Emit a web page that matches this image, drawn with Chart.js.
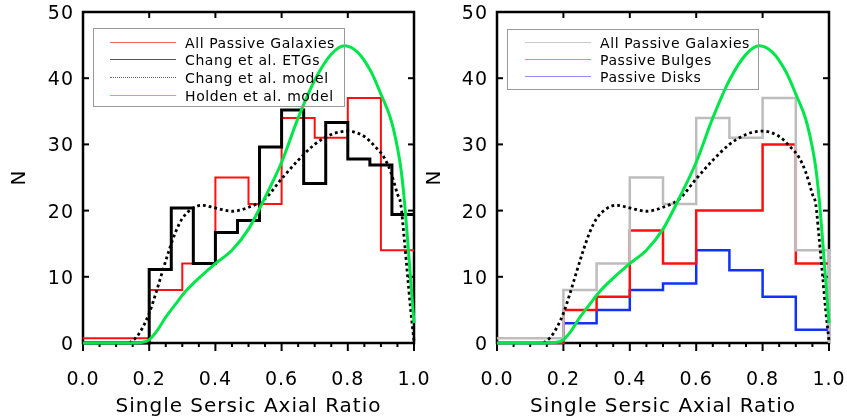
<!DOCTYPE html>
<html>
<head>
<meta charset="utf-8">
<script src="https://cdn.jsdelivr.net/npm/chart.js@4.4.1/dist/chart.umd.min.js"></script>
<style>
  html, body { margin:0; padding:0; background:#fff; }
  #wrap { position:relative; width:847px; height:418px; overflow:hidden; background:#fff; }
  #wrap canvas { position:absolute; left:0; top:0; }
  .legend { position:absolute; border:1px solid #9a9a9a; box-sizing:border-box; font-family:"DejaVu Sans", sans-serif; font-size:14px; letter-spacing:0.6px; color:#000; }
  .legend .row { position:absolute; left:0; height:18px; width:100%; }
  .legend .sample { position:absolute; top:8px; height:0; }
  .legend .label { position:absolute; top:0; line-height:18px; white-space:nowrap; }
</style>
</head>
<body>
<div id="wrap">
  <canvas id="c1" width="847" height="418"></canvas>
  <canvas id="c2" width="847" height="418"></canvas>
  <div class="legend" id="leg1" style="left:93px; top:28px; width:252px; height:79px;"></div>
  <div class="legend" id="leg2" style="left:507px; top:29px; width:252px; height:61px;"></div>
</div>
<script>
// ---------------- data ----------------
const xTickValues = [0.0, 0.2, 0.4, 0.6, 0.8, 1.0];
const yTickValues = [0, 10, 20, 30, 40, 50];

// histogram bin edges
const binEdges10 = [0.0, 0.1, 0.2, 0.3, 0.4, 0.5, 0.6, 0.7, 0.8, 0.9, 1.0];
const binEdges15 = [0.0, 0.0667, 0.1333, 0.2, 0.2667, 0.3333, 0.4, 0.4667, 0.5333, 0.6, 0.6667, 0.7333, 0.8, 0.8667, 0.9333, 1.0];

// histogram values
const allPassive    = [0.7, 0.7, 8, 12, 25, 21, 34, 31, 37, 14];
const passiveBulges = [0, 0, 5, 7, 17, 12, 20, 20, 30, 12];
const passiveDisks  = [0, 0, 3, 5, 8, 9, 14, 11, 7, 2];
const changETGs     = [0, 0, 0, 11.1, 20.4, 12.0, 16.7, 18.5, 29.6, 35.2, 24.1, 33.3, 27.8, 26.9, 19.4];

// model curves
const holdenX = [0.0, 0.05, 0.10, 0.15, 0.18, 0.20, 0.22, 0.25, 0.28, 0.31, 0.35, 0.40, 0.45, 0.50, 0.55, 0.60, 0.65, 0.70, 0.75, 0.79, 0.83, 0.87, 0.90, 0.93, 0.95, 0.96, 0.97, 0.98, 0.99, 1.0];
const holdenY = [0.0, 0.0, 0.0, 0.0, 0.1, 0.5, 1.6, 3.9, 5.9, 7.8, 9.8, 12.0, 14.0, 17.2, 22.0, 27.3, 34.0, 39.7, 43.6, 44.9, 43.9, 41.0, 37.6, 33.8, 29.5, 26.5, 22.0, 16.0, 9.5, 3.0];
const changModelX = [0.14, 0.16, 0.18, 0.20, 0.22, 0.24, 0.26, 0.28, 0.30, 0.33, 0.36, 0.40, 0.45, 0.50, 0.55, 0.60, 0.65, 0.70, 0.75, 0.80, 0.85, 0.88, 0.91, 0.93, 0.95, 0.96, 0.97, 0.98, 0.99, 1.0];
const changModelY = [0.0, 0.8, 2.3, 4.5, 7.5, 10.8, 14.0, 16.8, 18.8, 20.3, 20.8, 20.4, 19.9, 20.5, 21.8, 24.8, 27.6, 30.0, 31.5, 32.0, 31.2, 29.8, 28.0, 25.8, 22.5, 21.0, 16.0, 10.5, 5.0, 0.3];

// ---------------- helpers ----------------
function steps(edges, vals, closeAtEnd) {
  const pts = vals.map((v, i) => ({ x: edges[i], y: v }));
  pts.push({ x: edges[edges.length - 1], y: vals[vals.length - 1] });
  if (closeAtEnd) pts.push({ x: edges[edges.length - 1], y: 0 });
  return pts;
}
function curve(xs, ys) { return xs.map((x, i) => ({ x: x, y: ys[i] })); }

const FONT = "'DejaVu Sans', sans-serif";
const GREEN = '#00e64a';

const framePlugin = {
  id: 'frame',
  beforeInit(chart) { chart.ctx.letterSpacing = '1px'; },
  beforeUpdate(chart) { chart.ctx.letterSpacing = '1px'; },
  beforeDraw(chart) { chart.ctx.letterSpacing = '1px'; },
  beforeDatasetsDraw(chart) {
    const { ctx, chartArea: a, scales } = chart;
    const xs = scales.x, ys = scales.y;
    ctx.save();
    ctx.strokeStyle = '#000';
    ctx.lineWidth = 2.5;
    ctx.strokeRect(a.left, a.top, a.right - a.left, a.bottom - a.top);
    ctx.lineWidth = 2;
    // bottom: outward major + minor ticks
    const xmin = xTickValues[0], xmax = xTickValues[xTickValues.length - 1];
    const minorStep = (xTickValues[1] - xTickValues[0]) / 4;
    for (let k = 0; xmin + k * minorStep <= xmax + 1e-9; k++) {
      const v = xmin + k * minorStep;
      const px = xs.getPixelForValue(v);
      const major = (k % 4 === 0);
      ctx.beginPath();
      ctx.moveTo(px, a.bottom);
      ctx.lineTo(px, a.bottom + (major ? 8 : 4));
      ctx.stroke();
    }
    // top: inward major ticks
    xTickValues.forEach(v => {
      const px = xs.getPixelForValue(v);
      ctx.beginPath(); ctx.moveTo(px, a.top); ctx.lineTo(px, a.top + 6); ctx.stroke();
    });
    // left and right: inward major ticks
    yTickValues.forEach(v => {
      const py = ys.getPixelForValue(v);
      ctx.beginPath(); ctx.moveTo(a.left, py); ctx.lineTo(a.left + 6, py); ctx.stroke();
      ctx.beginPath(); ctx.moveTo(a.right, py); ctx.lineTo(a.right - 6, py); ctx.stroke();
    });
    ctx.restore();
  }
};

function makeOptions(padLeft, padRight, yWidth, titlePadTop) {
  return {
    responsive: false,
    animation: false,
    devicePixelRatio: 1,
    layout: { padding: { left: padLeft, right: padRight, top: 12, bottom: 0 } },
    plugins: { legend: { display: false }, tooltip: { enabled: false } },
    elements: { point: { radius: 0 } },
    scales: {
      x: {
        type: 'linear', min: 0, max: 1,
        afterFit(scale) { scale.height = 75; scale.paddingLeft = 0; scale.paddingRight = 0; },
        afterBuildTicks(scale) { scale.ticks = xTickValues.map(v => ({ value: v })); },
        grid: { display: false, drawTicks: false, tickLength: 0 },
        border: { display: false },
        ticks: { padding: 26, color: '#000', font: { family: FONT, size: 19 }, maxRotation: 0,
                 callback: v => Number(v).toFixed(1) },
        title: { display: true, text: 'Single Sersic Axial Ratio', color: '#000',
                 font: { family: FONT, size: 20, lineHeight: 1.1 }, padding: { top: 0, bottom: 0 } }
      },
      y: {
        type: 'linear', min: 0, max: 50,
        afterFit(scale) { scale.width = yWidth; scale.paddingTop = 0; scale.paddingBottom = 0; },
        afterBuildTicks(scale) { scale.ticks = yTickValues.map(v => ({ value: v })); },
        grid: { display: false, drawTicks: false, tickLength: 0 },
        border: { display: false },
        ticks: { padding: 9, labelOffset: 2, color: '#000', font: { family: FONT, size: 19 } },
        title: { display: true, text: 'N', color: '#000',
                 font: { family: FONT, size: 20 }, padding: { top: titlePadTop, bottom: 0 } }
      }
    }
  };
}

function holdenDataset() {
  return { data: curve(holdenX, holdenY), borderColor: GREEN, borderWidth: 3,
           cubicInterpolationMode: 'monotone', clip: 6, fill: false };
}
function changModelDataset() {
  return { data: curve(changModelX, changModelY), borderColor: '#000', borderWidth: 2.8,
           borderDash: [2.8, 3], borderCapStyle: 'butt',
           cubicInterpolationMode: 'monotone', clip: 6, fill: false };
}

// left panel
new Chart(document.getElementById('c1'), {
  type: 'line',
  data: {
    datasets: [
      holdenDataset(),
      changModelDataset(),
      { data: steps(binEdges15, changETGs, false), borderColor: '#000', borderWidth: 3, stepped: true, clip: 6 },
      { data: steps(binEdges10, allPassive, false), borderColor: '#ff1010', borderWidth: 2, stepped: true, clip: 6 }
    ]
  },
  options: makeOptions(0, 433, 83, 8),
  plugins: [framePlugin]
});

// right panel
new Chart(document.getElementById('c2'), {
  type: 'line',
  data: {
    datasets: [
      holdenDataset(),
      changModelDataset(),
      { data: steps(binEdges10, allPassive, true), borderColor: '#bdbdbd', borderWidth: 2.5, stepped: true, clip: 6 },
      { data: steps(binEdges10, passiveBulges, false), borderColor: '#ff1010', borderWidth: 2.5, stepped: true, clip: 6 },
      { data: steps(binEdges10, passiveDisks, false), borderColor: '#1030ff', borderWidth: 2.5, stepped: true, clip: 6 }
    ]
  },
  options: makeOptions(423, 18, 74, 0),
  plugins: [framePlugin]
});

// ---------------- HTML legends ----------------
const legend1 = [
  { label: 'All Passive Galaxies', color: '#ff6060', style: 'solid' },
  { label: 'Chang et al. ETGs', color: '#555555', style: 'solid' },
  { label: 'Chang et al. model', color: '#666666', style: 'dotted' },
  { label: 'Holden et al. model', color: '#40f07a', style: 'solid' }
];
const legend2 = [
  { label: 'All Passive Galaxies', color: '#c8c8c8', style: 'solid' },
  { label: 'Passive Bulges', color: '#ff8080', style: 'solid' },
  { label: 'Passive Disks', color: '#9090f0', style: 'solid' }
];
function buildLegend(el, items, firstTop, spacing, lineLeft, lineRight, textLeft) {
  items.forEach((it, i) => {
    const row = document.createElement('div');
    row.className = 'row';
    row.style.top = (firstTop + i * spacing - 9) + 'px';
    const s = document.createElement('div');
    s.className = 'sample';
    s.style.left = lineLeft + 'px';
    s.style.width = (lineRight - lineLeft) + 'px';
    s.style.borderTop = '1.5px ' + it.style + ' ' + it.color;
    const t = document.createElement('div');
    t.className = 'label';
    t.style.left = textLeft + 'px';
    t.textContent = it.label;
    row.appendChild(s); row.appendChild(t);
    el.appendChild(row);
  });
}
buildLegend(document.getElementById('leg1'), legend1, 13.5, 17.8, 16, 82, 91);
buildLegend(document.getElementById('leg2'), legend2, 12.5, 17.3, 17, 83, 92);
</script>
</body>
</html>
